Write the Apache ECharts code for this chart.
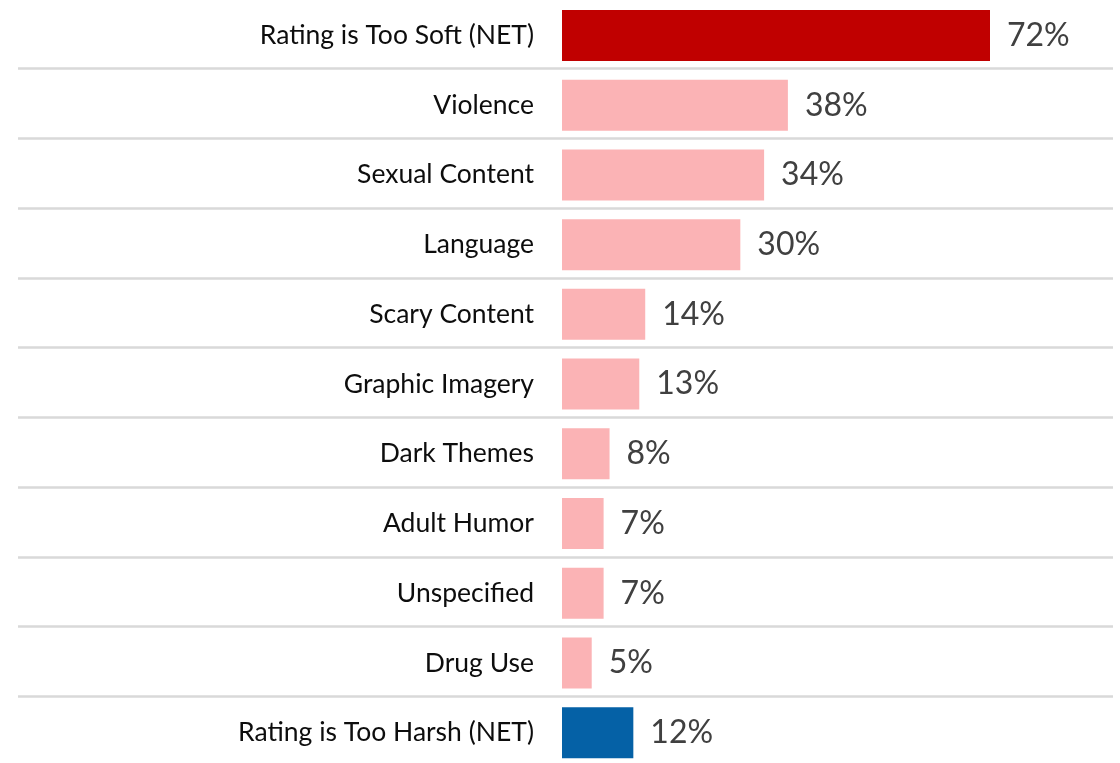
<!DOCTYPE html>
<html>
<head>
<meta charset="utf-8">
<script src="https://cdn.jsdelivr.net/npm/echarts@6/dist/echarts.min.js"></script>
<style>
  html, body { margin: 0; padding: 0; background: #fff; }
  #chart { width: 1120px; height: 763px; }
</style>
</head>
<body>
<div id="chart"></div>
<script>
const categories = [
    'Rating is Too Soft (NET)',
    'Violence',
    'Sexual Content',
    'Language',
    'Scary Content',
    'Graphic Imagery',
    'Dark Themes',
    'Adult Humor',
    'Unspecified',
    'Drug Use',
    'Rating is Too Harsh (NET)'
];
const values = [72, 38, 34, 30, 14, 13, 8, 7, 7, 5, 12];

const softColor = '#c00000';
const detailColor = '#fbb3b5';
const harshColor = '#0561a6';
const fontFamily = 'Lato, "Open Sans", sans-serif';

const chart = echarts.init(document.getElementById('chart'));

chart.setOption({
    animation: false,
    grid: [
        { left: 562, right: 23, top: 0.6, height: 767, outerBoundsMode: 'none', containLabel: false },
        // wider grid only used for the row separators
        { left: 18, right: 7, top: -1, height: 767, outerBoundsMode: 'none', containLabel: false }
    ],
    xAxis: [
        { type: 'value', min: 0, max: 90, show: false, gridIndex: 0 },
        { type: 'value', min: 0, max: 1, show: false, gridIndex: 1 }
    ],
    yAxis: [
        {
            type: 'category',
            data: categories,
            inverse: true,
            gridIndex: 0,
            axisLine: { show: false },
            axisTick: { show: false },
            splitLine: { show: false },
            axisLabel: {
                margin: 28,
                color: '#0d0d0d',
                fontSize: 26.5,
                fontFamily: fontFamily
            }
        },
        {
            type: 'category',
            data: categories,
            inverse: true,
            gridIndex: 1,
            axisLine: { show: false },
            axisTick: { show: false },
            axisLabel: { show: false },
            splitLine: {
                show: true,
                showMinLine: false,
                showMaxLine: false,
                lineStyle: { color: '#d9d9d9', width: 2.5 }
            }
        }
    ],
    series: [
        {
            type: 'bar',
            data: values,
            xAxisIndex: 0,
            yAxisIndex: 0,
            barWidth: 51,
            itemStyle: {
                color: function (params) {
                    if (params.dataIndex === 0) return softColor;
                    if (params.dataIndex === values.length - 1) return harshColor;
                    return detailColor;
                }
            },
            label: {
                show: true,
                position: 'right',
                distance: 17,
                formatter: '{c}%',
                color: '#404040',
                fontSize: 32,
                fontFamily: fontFamily
            }
        }
    ]
});
</script>
</body>
</html>
